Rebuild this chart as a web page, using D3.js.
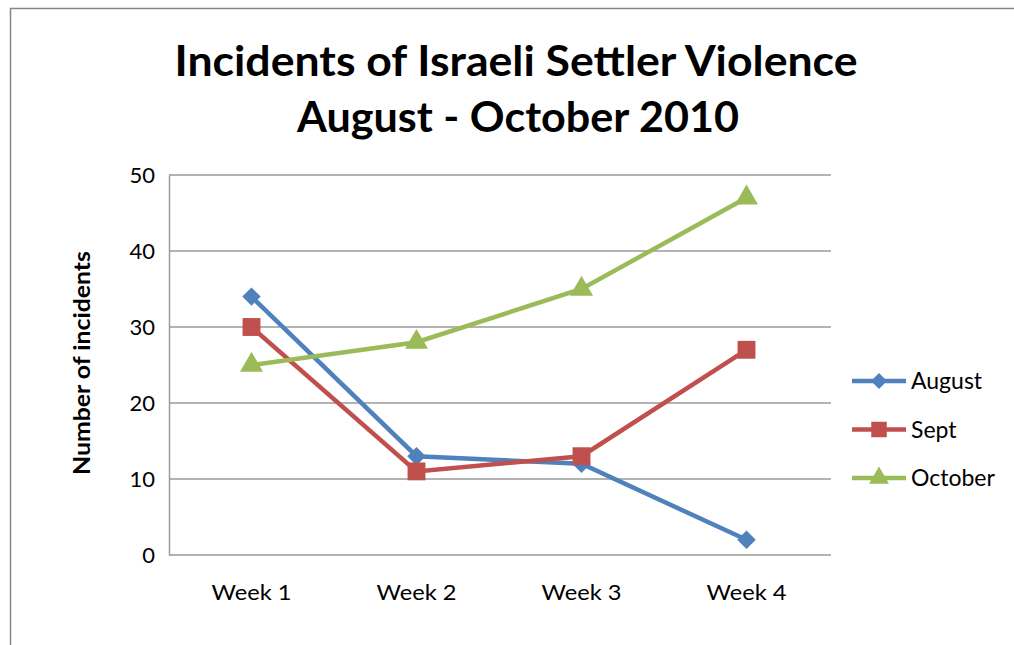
<!DOCTYPE html>
<html>
  <head>
    <title>Incidents of Israeli Settler Violence</title>
    <script src="https://cdn.jsdelivr.net/npm/d3@7"></script>
    <style>
      body { margin: 0; background: #fff; }
      text { font-family: Lato, "Open Sans", sans-serif; fill: #000; }
    </style>
  </head>
  <body>
    <svg id="svg" width="1014" height="645" xmlns="http://www.w3.org/2000/svg"></svg>
    <script>
      let svg = d3.select("svg");

      // Data
      let weeks = ["Week 1", "Week 2", "Week 3", "Week 4"];
      let august = [34, 13, 12, 2];
      let sept = [30, 11, 13, 27];
      let october = [25, 28, 35, 47];
      let yTicks = [0, 10, 20, 30, 40, 50];

      // diamond = square turned 45 degrees
      let series = [
        { name: "August", values: august, color: "#4F81BD", shape: d3.symbolSquare, size: 170, rot: 45 },
        { name: "Sept", values: sept, color: "#C0504D", shape: d3.symbolSquare, size: 320, rot: 0 },
        { name: "October", values: october, color: "#9BBB59", shape: d3.symbolTriangle, size: 230, rot: 0 }
      ];

      // Outer chart border
      svg.append("rect")
        .attr("x", 10.5).attr("y", 8.5)
        .attr("width", 1100).attr("height", 700)
        .attr("fill", "none").attr("stroke", "#868686").attr("stroke-width", 1.5);

      let plotLeft = 169, plotRight = 829, plotTop = 175, plotBottom = 555;

      let x = d3.scaleBand().domain(weeks).range([plotLeft, plotRight]);
      let y = d3.scaleLinear().domain([0, 50]).range([plotBottom, plotTop]);

      // Title
      let title = svg.append("g").attr("font-weight", "bold");
      title.append("text").attr("x", 516).attr("y", 76)
        .attr("text-anchor", "middle").attr("font-size", 42)
        .attr("textLength", 683).attr("lengthAdjust", "spacingAndGlyphs")
        .text("Incidents of Israeli Settler Violence");
      title.append("text").attr("x", 518).attr("y", 132)
        .attr("text-anchor", "middle").attr("font-size", 42)
        .attr("textLength", 442).attr("lengthAdjust", "spacingAndGlyphs")
        .text("August - October 2010");

      // Gridlines
      svg.append("g")
        .selectAll("line")
        .data(yTicks)
        .join("line")
        .attr("x1", plotLeft).attr("x2", plotRight + 2)
        .attr("y1", d => y(d)).attr("y2", d => y(d))
        .attr("stroke", "#9a9a9a").attr("stroke-width", 1.5);

      // Y axis
      let yAxis = svg.append("g")
        .attr("transform", `translate(${plotLeft},0)`)
        .call(d3.axisLeft(y).tickValues(yTicks).tickSize(0).tickPadding(14));
      yAxis.select(".domain").attr("stroke", "#9a9a9a").attr("stroke-width", 1.5);
      yAxis.selectAll("text").attr("font-size", 22).attr("font-family", "Lato, sans-serif").attr("fill", "#222");

      // X axis
      let xAxis = svg.append("g")
        .attr("transform", `translate(0,${plotBottom})`)
        .call(d3.axisBottom(x).tickSize(0).tickPadding(29));
      xAxis.select(".domain").remove();
      xAxis.selectAll("text").attr("font-size", 22).attr("font-family", "Lato, sans-serif").attr("fill", "#222")
        .attr("textLength", 80).attr("lengthAdjust", "spacingAndGlyphs");

      // Y axis label
      svg.append("text")
        .attr("transform", "translate(90,363) rotate(-90)")
        .attr("text-anchor", "middle")
        .attr("font-size", 23).attr("font-weight", "bold")
        .attr("textLength", 224).attr("lengthAdjust", "spacingAndGlyphs")
        .text("Number of incidents");

      let cx = d => x(d) + x.bandwidth() / 2;

      // Lines and markers
      series.forEach(s => {
        let pts = weeks.map((w, i) => [cx(w), y(s.values[i])]);
        svg.append("path")
          .attr("d", d3.line()(pts))
          .attr("fill", "none")
          .attr("stroke", s.color)
          .attr("stroke-width", 4.5);
        svg.append("g")
          .selectAll("path")
          .data(pts)
          .join("path")
          .attr("transform", d => `translate(${d[0]},${d[1]}) rotate(${s.rot})`)
          .attr("d", d3.symbol().type(s.shape).size(s.size))
          .attr("fill", s.color);
      });

      // Legend
      let legend = svg.append("g");
      series.forEach((s, i) => {
        let ly = 381 + i * 48.5;
        legend.append("line")
          .attr("x1", 852).attr("x2", 906)
          .attr("y1", ly).attr("y2", ly)
          .attr("stroke", s.color).attr("stroke-width", 4.5);
        legend.append("path")
          .attr("transform", `translate(879,${ly}) rotate(${s.rot})`)
          .attr("d", d3.symbol().type(s.shape).size(s.size * 0.75))
          .attr("fill", s.color);
        legend.append("text")
          .attr("x", 911).attr("y", ly + 8)
          .attr("font-size", 23).attr("fill", "#222")
          .text(s.name);
      });
    </script>
  </body>
</html>
